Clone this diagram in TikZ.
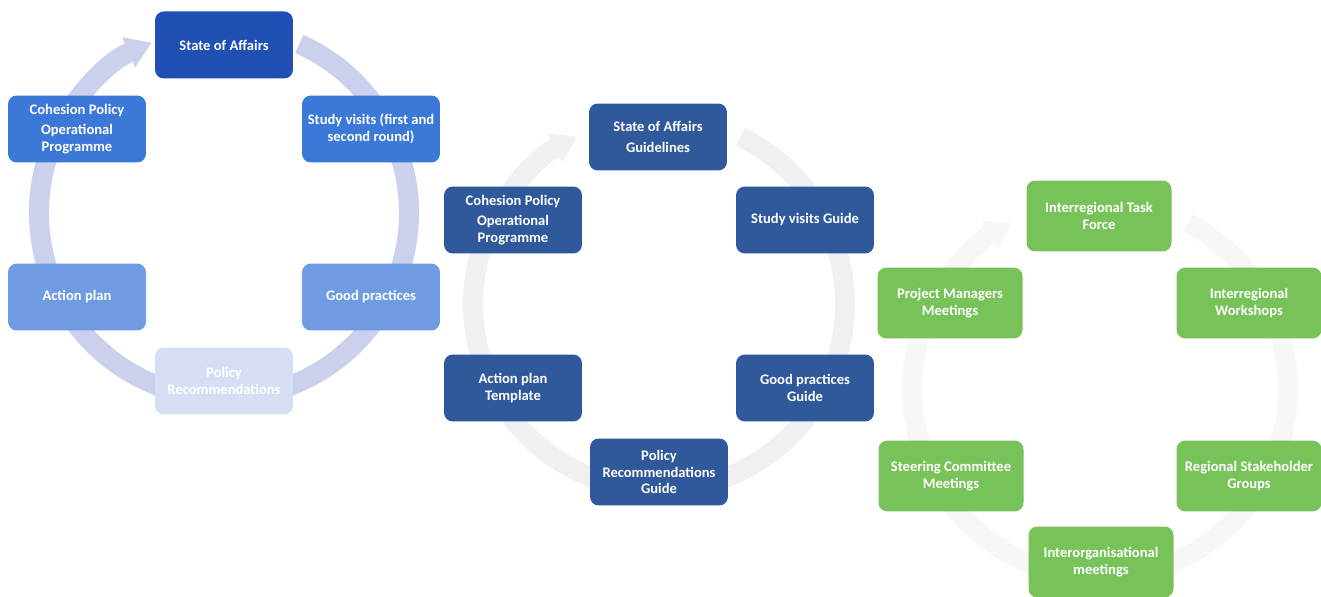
\documentclass[tikz,border=0pt]{standalone}
\usepackage{fontspec}
\setmainfont{Carlito}
\usepackage{tikz}
\usetikzlibrary{arrows.meta}
\definecolor{soadark}{HTML}{2150B4}
\definecolor{blueone}{HTML}{3C78D8}
\definecolor{bluetwo}{HTML}{6F9BE2}
\definecolor{bluefade}{HTML}{D5DEF3}
\definecolor{navybox}{HTML}{30599C}
\definecolor{greenbox}{HTML}{77C35A}
\definecolor{ringone}{HTML}{CBD0EC}
\definecolor{ringtwo}{HTML}{F0F0F3}
\definecolor{ringthree}{HTML}{F7F7F7}

\begin{document}
\begin{tikzpicture}[x=0.02cm, y=0.02cm,
        stagebox/.style={rectangle, rounded corners=5pt, draw=none,
          minimum width=2.76cm, minimum height=1.34cm, inner sep=1pt,
          text=white, align=center,
        font=\fontsize{8.3}{9.6}\selectfont\bfseries},
        meetbox/.style={stagebox, minimum width=2.9cm,
        minimum height=1.42cm, fill=greenbox},
        ring/.style={line width=0.4cm,
        -{Triangle[width=0.62cm, length=0.5cm]}},
      ]

      \useasboundingbox (0,0) rectangle (1321,-597);

      % =================== PROJECT CYCLE ===================
      \coordinate (c1) at (224,-213);
      \draw[ring, ringone] ([shift={(66:185)}]c1)
      arc[start angle=66, end angle=-247, radius=185];

      \node[stagebox, fill=soadark] (soa1) at (224,-45) {State of Affairs};
      \node[stagebox, fill=blueone] (coh1) at (77,-129)
      {Cohesion Policy\\[2pt] Operational\\ Programme};
      \node[stagebox, fill=blueone] (visit1) at (371,-129)
      {Study visits (first and\\ second round)};
      \node[stagebox, fill=bluetwo] (plan1) at (77,-297) {Action plan};
      \node[stagebox, fill=bluetwo] (good1) at (371,-297) {Good practices};
      \node[stagebox, fill=bluefade] (rec1) at (224,-381)
      {Policy\\ Recommendations};

      % =================== GUIDES ===================
      \coordinate (c2) at (659,-304);
      \draw[ring, ringtwo] ([shift={(64:186)}]c2)
      arc[start angle=64, end angle=-244, radius=186];

      \node[stagebox, fill=navybox] (soa2) at (658,-137)
      {State of Affairs\\[2pt] Guidelines};
      \node[stagebox, fill=navybox] (coh2) at (513,-220)
      {Cohesion Policy\\[2pt] Operational\\ Programme};
      \node[stagebox, fill=navybox] (visit2) at (805,-220) {Study visits Guide};
      \node[stagebox, fill=navybox] (plan2) at (513,-388)
      {Action plan\\ Template};
      \node[stagebox, fill=navybox] (good2) at (805,-388)
      {Good practices\\ Guide};
      \node[stagebox, fill=navybox] (rec2) at (659,-472)
      {Policy\\ Recommendations\\ Guide};

      % =================== MEETINGS ===================
      \coordinate (c3) at (1100,-389);
      \draw[ring, ringthree] ([shift={(62:188)}]c3)
      arc[start angle=62, end angle=-242, radius=188];

      \node[meetbox] (task3) at (1099,-216) {Interregional Task\\ Force};
      \node[meetbox] (pm3) at (950,-303) {Project Managers\\ Meetings};
      \node[meetbox] (ws3) at (1249,-303) {Interregional\\ Workshops};
      \node[meetbox] (sc3) at (951,-476) {Steering Committee\\ Meetings};
      \node[meetbox] (rsg3) at (1249,-476) {Regional Stakeholder\\ Groups};
      \node[meetbox] (org3) at (1101,-562) {Interorganisational\\ meetings};

    \end{tikzpicture}
\end{document}
